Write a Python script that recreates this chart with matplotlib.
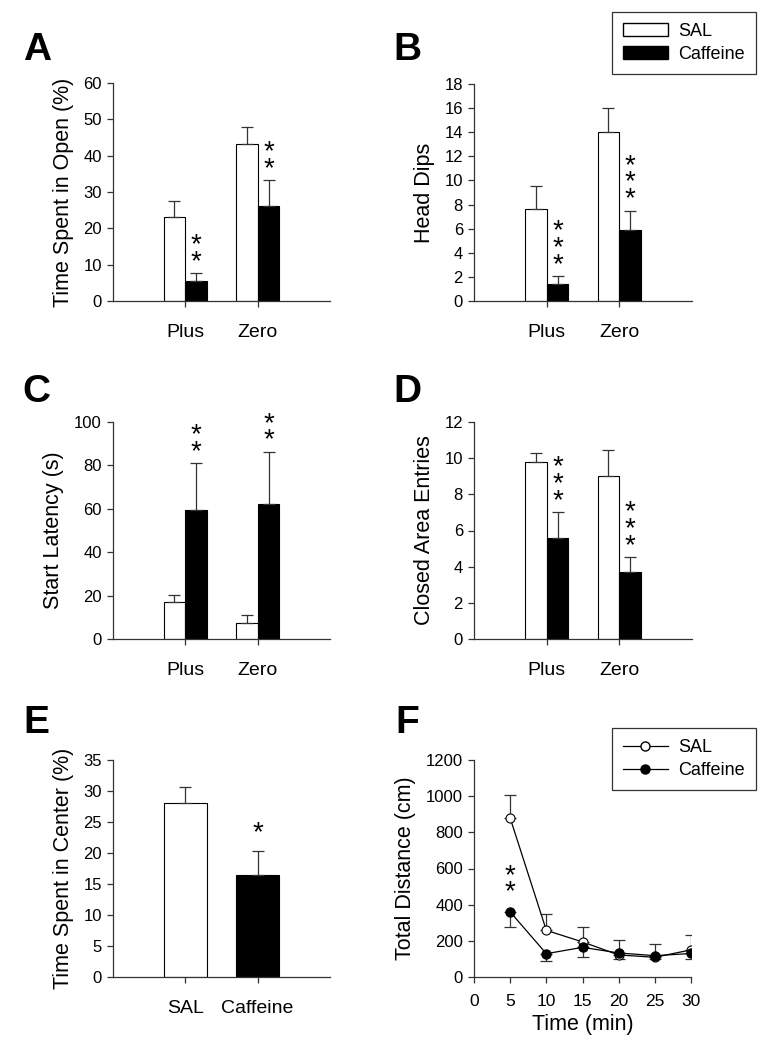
import matplotlib
matplotlib.use('Agg')
import matplotlib.pyplot as plt
from matplotlib.patches import Patch
from matplotlib.lines import Line2D
import numpy as np

plt.rcParams['font.family'] = ['Liberation Sans', 'DejaVu Sans']

groups = ['Plus', 'Zero']

# A - time spent in open (%)
a_sal = [23.1, 43.3]
a_sal_err = [4.3, 4.6]
a_caf = [5.5, 26.2]
a_caf_err = [2.1, 7.1]

# B - head dips
b_sal = [7.66, 14.0]
b_sal_err = [1.9, 2.0]
b_caf = [1.44, 5.9]
b_caf_err = [0.6, 1.6]

# C - start latency (s)
c_sal = [16.9, 7.2]
c_sal_err = [3.3, 3.7]
c_caf = [59.4, 62.3]
c_caf_err = [21.7, 24.0]

# D - closed area entries
d_sal = [9.8, 9.0]
d_sal_err = [0.48, 1.45]
d_caf = [5.58, 3.71]
d_caf_err = [1.42, 0.81]

# E - time spent in center (%)
e_labels = ['SAL', 'Caffeine']
e_vals = [28.0, 16.4]
e_err = [2.6, 4.0]

# F - total distance (cm)
f_time = [5, 10, 15, 20, 25, 30]
f_sal = [879, 258, 194, 122, 109, 150]
f_sal_err = [126, 92, 84, 84, 73, 80]
f_caf = [360, 129, 164, 133, 118, 130]
f_caf_err = [85, 39, 54, 33, 18, 30]

W, H = 759, 1050
fig = plt.figure(figsize=(W / 100, H / 100), dpi=100)

AX_COL = '#333333'
ERR_COL = '#333333'
TICK_FS = 12
CAT_FS = 14
LAB_FS = 15.5
LEG_FS = 13
STAR_FS = 20


def make_ax(l, t, r, b):
    ax = fig.add_axes([l / W, 1 - b / H, (r - l) / W, (b - t) / H])
    for s in ['top', 'right']:
        ax.spines[s].set_visible(False)
    for s in ['left', 'bottom']:
        ax.spines[s].set_color(AX_COL)
        ax.spines[s].set_linewidth(0.9)
    ax.tick_params(colors=AX_COL, width=0.9, length=4.5, labelsize=TICK_FS,
                   labelcolor='black')
    return ax


def stars(ax, x, y, n, first=13, gap=15.5):
    # one text with n stacked asterisks; first = px from (x, y) to centre of lowest star
    em = STAR_FS * 100 / 72
    ax.annotate('\n'.join(['*'] * n), (x, y), xytext=(0, first - 0.53 * em),
                textcoords='offset pixels', ha='center', va='bottom',
                fontsize=STAR_FS, color='black', linespacing=gap / (1.04 * em))


def bar_panel(ax, sal, sal_err, caf, caf_err, ymax, ystep, ylabel, nstars):
    x = np.arange(1, len(groups) + 1)
    w = 0.3
    ax.bar(x - w / 2, sal, w, color='white', edgecolor='black', linewidth=0.8)
    ax.bar(x + w / 2, caf, w, color='black', edgecolor='black', linewidth=0.8)
    ax.errorbar(x - w / 2, sal, yerr=[np.zeros(len(sal)), sal_err], fmt='none',
                ecolor=ERR_COL, elinewidth=0.9, capsize=4, capthick=0.9)
    ax.errorbar(x + w / 2, caf, yerr=[np.zeros(len(caf)), caf_err], fmt='none',
                ecolor=ERR_COL, elinewidth=0.9, capsize=4, capthick=0.9)
    ax.set_xlim(0, 3)
    ax.set_ylim(0, ymax)
    ax.set_yticks(np.arange(0, ymax + ystep / 2, ystep))
    ax.set_xticks(x)
    ax.set_xticklabels(groups, fontsize=CAT_FS)
    ax.tick_params(axis='x', pad=12)
    ax.set_ylabel(ylabel, fontsize=LAB_FS, labelpad=7)
    for xi, v, e, n in zip(x + w / 2, caf, caf_err, nstars):
        stars(ax, xi, v + e, n)


def legend_box(ax, handles, top_px, **kw):
    leg = ax.legend(handles=handles, loc='upper right',
                    bbox_to_anchor=(756 / W, 1 - top_px / H),
                    bbox_transform=fig.transFigure, borderaxespad=0,
                    fontsize=LEG_FS, frameon=True, fancybox=False,
                    edgecolor='black', handlelength=2.5, handletextpad=0.6,
                    borderpad=0.6, labelspacing=0.35, **kw)
    leg.get_frame().set_linewidth(0.9)
    return leg


# panel A
ax_a = make_ax(113, 83, 330, 301)
bar_panel(ax_a, a_sal, a_sal_err, a_caf, a_caf_err, 60, 10,
          'Time Spent in Open (%)', [2, 2])

# panel B
ax_b = make_ax(474, 84, 692, 301)
bar_panel(ax_b, b_sal, b_sal_err, b_caf, b_caf_err, 18, 2, 'Head Dips', [3, 3])
legend_box(ax_b, [Patch(facecolor='white', edgecolor='black', label='SAL'),
                  Patch(facecolor='black', edgecolor='black', label='Caffeine')],
           12, handleheight=0.75)

# panel C
ax_c = make_ax(113, 422, 330, 639)
bar_panel(ax_c, c_sal, c_sal_err, c_caf, c_caf_err, 100, 20,
          'Start Latency (s)', [2, 2])

# panel D
ax_d = make_ax(474, 422, 692, 639)
bar_panel(ax_d, d_sal, d_sal_err, d_caf, d_caf_err, 12, 2,
          'Closed Area Entries', [3, 3])

# panel E
ax_e = make_ax(113, 760, 330, 977)
ex = np.arange(1, 3)
ax_e.bar(ex, e_vals, 0.6, color=['white', 'black'], edgecolor='black', linewidth=0.8)
ax_e.errorbar(ex, e_vals, yerr=[np.zeros(2), e_err], fmt='none', ecolor=ERR_COL,
              elinewidth=0.9, capsize=4, capthick=0.9)
ax_e.set_xlim(0, 3)
ax_e.set_ylim(0, 35)
ax_e.set_yticks(np.arange(0, 36, 5))
ax_e.set_xticks(ex)
ax_e.set_xticklabels(e_labels, fontsize=CAT_FS)
ax_e.tick_params(axis='x', pad=12)
ax_e.set_ylabel('Time Spent in Center (%)', fontsize=LAB_FS, labelpad=7)
stars(ax_e, 2, e_vals[1] + e_err[1], 1, first=19)

# panel F
ax_f = make_ax(474, 760, 691, 977)
ax_f.errorbar(f_time, f_sal, yerr=[np.zeros(6), f_sal_err], fmt='none',
              ecolor=ERR_COL, elinewidth=0.9, capsize=4, capthick=0.9)
ax_f.errorbar(f_time, f_caf, yerr=[f_caf_err, np.zeros(6)], fmt='none',
              ecolor=ERR_COL, elinewidth=0.9, capsize=4, capthick=0.9)
ax_f.plot(f_time, f_sal, '-o', color='black', lw=0.9, markersize=6.5,
          markerfacecolor='white', markeredgecolor='black', markeredgewidth=0.8)
ax_f.plot(f_time, f_caf, '-o', color='black', lw=0.9, markersize=6.5,
          markerfacecolor='black', markeredgecolor='black')
ax_f.set_xlim(0, 30)
ax_f.set_ylim(0, 1200)
ax_f.set_xticks(np.arange(0, 31, 5))
ax_f.set_yticks(np.arange(0, 1201, 200))
ax_f.tick_params(axis='x', pad=8, labelsize=12.5)
ax_f.set_xlabel('Time (min)', fontsize=LAB_FS, labelpad=3)
ax_f.set_ylabel('Total Distance (cm)', fontsize=LAB_FS, labelpad=7)
stars(ax_f, 5, f_caf[0], 2, first=21)
legend_box(ax_f, [Line2D([], [], color='black', lw=0.9, marker='o', markersize=6.5,
                         markerfacecolor='white', markeredgecolor='black', label='SAL'),
                  Line2D([], [], color='black', lw=0.9, marker='o', markersize=6.5,
                         markerfacecolor='black', label='Caffeine')],
           728)

# panel letters
for letter, x, y in [('A', 23, 60), ('B', 393, 60), ('C', 22, 402),
                     ('D', 393, 402), ('E', 23, 733), ('F', 395, 733)]:
    fig.text(x / W, 1 - y / H, letter, fontsize=28, fontweight='bold',
             ha='left', va='baseline')

fig.savefig('out.png', dpi=100)
